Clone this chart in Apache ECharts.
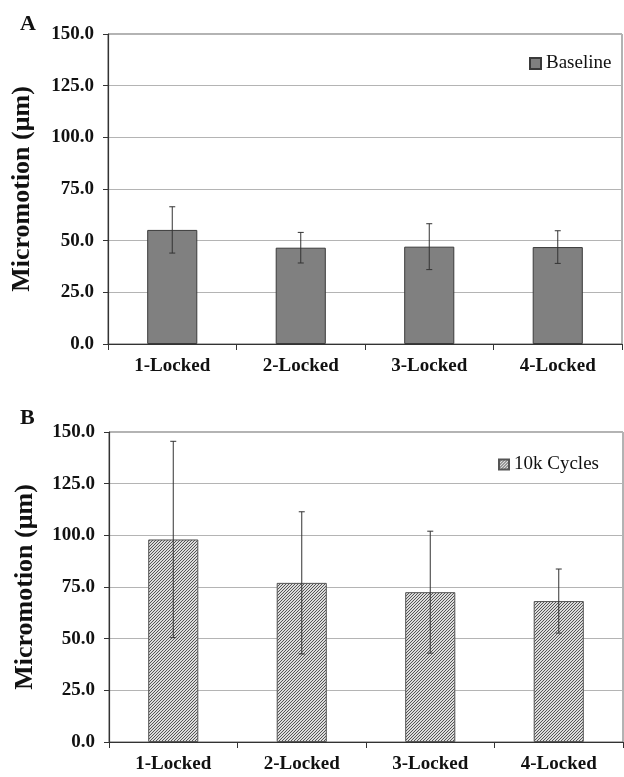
<!DOCTYPE html>
<html>
<head>
<meta charset="utf-8">
<script src="https://cdn.jsdelivr.net/npm/echarts@6/dist/echarts.min.js"></script>
<style>
html, body { margin: 0; padding: 0; background: #fff; }
#chart { width: 624px; height: 777px; }
</style>
</head>
<body>
<div id="chart"></div>
<script>
// data
var categories = ['1-Locked', '2-Locked', '3-Locked', '4-Locked'];
var baselineMean = [55.2, 46.6, 47.1, 46.9];
var baselineErr = [11.2, 7.4, 11.1, 7.9];
var cyclesMean = [98.0, 77.0, 72.5, 68.2];
var cyclesErr = [47.5, 34.4, 29.5, 15.5];
var yTicks = [0, 25, 50, 75, 100, 125, 150];

var serif = '"Liberation Serif", "Times New Roman", serif';

// fine hatch pattern for the 10k cycles bars
function makeHatch() {
  var c = document.createElement('canvas');
  c.width = 3; c.height = 3;
  var ctx = c.getContext('2d');
  ctx.fillStyle = '#dcdcdc';
  ctx.fillRect(0, 0, 3, 3);
  ctx.strokeStyle = '#555';
  ctx.lineWidth = 1;
  ctx.beginPath();
  ctx.moveTo(0, 3); ctx.lineTo(3, 0);
  ctx.moveTo(-1, 1); ctx.lineTo(1, -1);
  ctx.moveTo(2, 4); ctx.lineTo(4, 2);
  ctx.stroke();
  return c;
}
var hatch = { image: makeHatch(), repeat: 'repeat' };

function errData(mean, err) {
  return mean.map(function (m, i) { return [i, m - err[i], m + err[i]]; });
}

function renderErr(params, api) {
  var lo = api.coord([api.value(0), api.value(1)]);
  var hi = api.coord([api.value(0), api.value(2)]);
  var w = 3;
  var st = { stroke: '#333', lineWidth: 1 };
  return {
    type: 'group',
    children: [
      { type: 'line', shape: { x1: hi[0], y1: hi[1], x2: lo[0], y2: lo[1] }, style: st },
      { type: 'line', shape: { x1: hi[0] - w, y1: hi[1], x2: hi[0] + w, y2: hi[1] }, style: st },
      { type: 'line', shape: { x1: lo[0] - w, y1: lo[1], x2: lo[0] + w, y2: lo[1] }, style: st }
    ]
  };
}

function xAxis(gi) {
  return {
    type: 'category', gridIndex: gi, data: categories,
    axisLine: { lineStyle: { color: '#333', width: 1.2 } },
    axisTick: { show: true, length: 6, lineStyle: { color: '#333' } },
    axisLabel: { fontFamily: serif, fontWeight: 'bold', fontSize: 19, color: '#111', margin: 13 }
  };
}

function yAxis(gi, gap) {
  return {
    type: 'value', gridIndex: gi, min: yTicks[0], max: yTicks[yTicks.length - 1], interval: 25,
    name: 'Micromotion (\u03bcm)', nameLocation: 'middle', nameRotate: 90, nameGap: gap,
    nameTextStyle: { fontFamily: serif, fontWeight: 'bold', fontSize: 26, color: '#111' },
    axisLine: { show: true, lineStyle: { color: '#333', width: 1.2 } },
    axisTick: { show: true, length: 5, lineStyle: { color: '#333' } },
    axisLabel: {
      fontFamily: serif, fontWeight: 'bold', fontSize: 19, color: '#111', margin: 14,
      formatter: function (v) { return v.toFixed(1); }
    },
    splitLine: { lineStyle: { color: '#b4b4b4', width: 1.2 } }
  };
}

var chart = echarts.init(document.getElementById('chart'), null, { renderer: 'canvas' });
chart.setOption({
  animation: false,
  backgroundColor: '#fff',
  title: [
    { text: 'A', left: 15, top: 8, textStyle: { fontFamily: serif, fontWeight: 'bold', fontSize: 22, color: '#111' } },
    { text: 'B', left: 15, top: 402, textStyle: { fontFamily: serif, fontWeight: 'bold', fontSize: 22, color: '#111' } }
  ],
  grid: [
    { left: 108, right: 2, top: 34, height: 310, show: true, borderColor: '#666', borderWidth: 1 },
    { left: 109, right: 1, top: 432, height: 310, show: true, borderColor: '#666', borderWidth: 1 }
  ],
  legend: [
    {
      data: ['Baseline'], left: 524, top: 49, itemWidth: 11, itemHeight: 11, icon: 'rect',
      textStyle: { fontFamily: serif, fontSize: 19, color: '#111' }
    },
    {
      data: ['10k Cycles'], left: 493, top: 450, itemWidth: 10, itemHeight: 10, icon: 'rect',
      textStyle: { fontFamily: serif, fontSize: 19, color: '#111' }
    }
  ],
  xAxis: [xAxis(0), xAxis(1)],
  yAxis: [yAxis(0, 73), yAxis(1, 71)],
  series: [
    {
      name: 'Baseline', type: 'bar', xAxisIndex: 0, yAxisIndex: 0,
      barWidth: '39%', data: baselineMean,
      itemStyle: { color: '#808080', borderColor: '#3a3a3a', borderWidth: 1 }
    },
    {
      type: 'custom', xAxisIndex: 0, yAxisIndex: 0, z: 5,
      renderItem: renderErr, data: errData(baselineMean, baselineErr)
    },
    {
      name: '10k Cycles', type: 'bar', xAxisIndex: 1, yAxisIndex: 1,
      barWidth: '39%', data: cyclesMean,
      itemStyle: { color: hatch, borderColor: '#555', borderWidth: 1 }
    },
    {
      type: 'custom', xAxisIndex: 1, yAxisIndex: 1, z: 5,
      renderItem: renderErr, data: errData(cyclesMean, cyclesErr)
    }
  ]
});
</script>
</body>
</html>
